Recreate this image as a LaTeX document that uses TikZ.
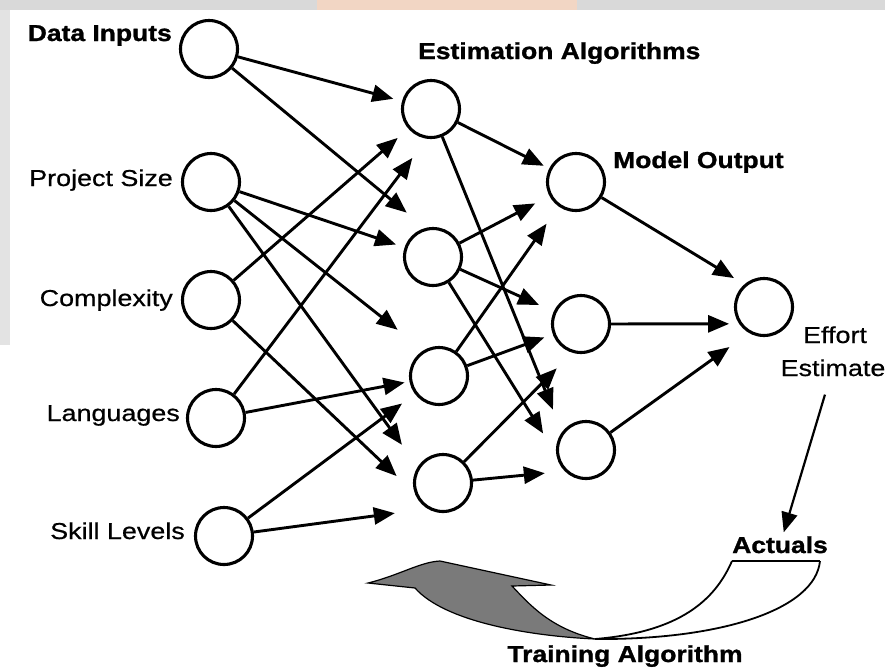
\documentclass[tikz,border=0pt]{standalone}
\usepackage{fontspec}
\setmainfont{Liberation Sans}
\newfontfamily\labfont[FakeStretch=1.17,FakeBold=0.6]{Liberation Sans}
\newfontfamily\blabfont[FakeStretch=1.15,FakeBold=1.2]{Liberation Sans Bold}
\usetikzlibrary{arrows.meta}
\definecolor{peach}{HTML}{F2D6C4}
\definecolor{swoosh}{HTML}{7A7A7A}
\begin{document}
\begin{tikzpicture}[x=1pt,y=-1pt,
  neuron/.style={circle,draw=black,line width=3.1pt,minimum size=57pt,inner sep=0pt},
  lab/.style={inner sep=0pt,font=\labfont\fontsize{23}{27}\selectfont},
  blab/.style={inner sep=0pt,font=\blabfont\fontsize{23}{27}\selectfont},
  arr/.style={line width=2.9pt,-{Triangle[length=21pt,width=17pt]}},
  thinarr/.style={line width=2.2pt,-{Triangle[length=20pt,width=16pt]}},
  thin/.style={line width=1.8pt},
]
\useasboundingbox (0,0) rectangle (885,670);
\fill[white] (0,0) rectangle (885,670);
\fill[gray!30] (0,0) rectangle (885,10);
\fill[peach] (317,0) rectangle (577,10);
\fill[gray!22] (0,10) rectangle (10,345);

% neurons
\node[neuron] (I1) at (209,49) {};
\node[neuron] (I2) at (211,182) {};
\node[neuron] (I3) at (211,300) {};
\node[neuron] (I4) at (216,418) {};
\node[neuron] (I5) at (224,536) {};
\node[neuron] (H1) at (431,109) {};
\node[neuron] (H2) at (433,257) {};
\node[neuron] (H3) at (439,376) {};
\node[neuron] (H4) at (443,483) {};
\node[neuron] (O1) at (576,182) {};
\node[neuron] (O2) at (581,324) {};
\node[neuron] (O3) at (586,450) {};
\node[neuron] (E) at (764,307) {};

% labels
\node[blab,anchor=base east] (tDI) at (172,41) {Data Inputs};
\node[lab,anchor=base east] (tPS) at (173,186) {Project Size};
\node[lab,anchor=base east] (tCX) at (173,306) {Complexity};
\node[lab,anchor=base east] (tLG) at (180,421) {Languages};
\node[lab,anchor=base east] (tSL) at (185,539) {Skill Levels};
\node[blab,anchor=base west] (tEA) at (418,59) {Estimation Algorithms};
\node[blab,anchor=base west] (tMO) at (613,168) {Model Output};
\node[lab,anchor=base] (tEff) at (835,343) {Effort};
\node[lab,anchor=base] (tEst) at (833,376) {Estimate};
\node[blab,anchor=base] (tAct) at (780,553) {Actuals};
\node[blab,anchor=base] (tTA) at (625,662) {Training Algorithm};

% input -> hidden
\draw[arr,shorten >=9pt]  (I1) -- (H1);
\draw[arr,shorten >=24pt] (I1) -- (H2.105);
\draw[arr,shorten >=9pt]  (I2) -- (H2);
\draw[arr,shorten >=33pt] (I2) -- (H3.121);
\draw[arr,shorten >=27pt] (I2) -- (H4.147);
\draw[arr,shorten >=14pt] (I3) -- (H1);
\draw[arr,shorten >=25pt] (I3) -- (H4.200);
\draw[arr,shorten >=24pt] (I4) -- (H1.262);
\draw[arr,shorten >=5pt]  (I4) -- (H3);
\draw[arr,shorten >=16pt] (I5) -- (H3);
\draw[arr,shorten >=33pt] (I5) -- (H4.239);

% hidden -> output
\draw[arr,shorten >=6pt]  (H1) -- (O1);
\draw[arr,shorten >=24pt] (H1) -- (O3.143);
\draw[arr,shorten >=16pt] (H2) -- (O1);
\draw[arr,shorten >=16pt] (H2) -- (O2);
\draw[arr,shorten >=25pt] (H2) -- (O3.189);
\draw[arr,shorten >=21pt] (H3) -- (O1);
\draw[arr,shorten >=9pt]  (H3) -- (O2);
\draw[arr,shorten >=22pt] (H4) -- (O2.253);
\draw[arr,shorten >=20pt] (H4) -- (O3.225);

% output -> effort
\draw[arr,shorten >=12pt] (O1) -- (E.131);
\draw[arr,shorten >=10pt] (O2) -- (E.214);
\draw[arr,shorten >=24pt] (O3) -- (E.240);

% effort estimate -> actuals
\draw[thinarr,shorten <=19pt,shorten >=4pt] (tEst) -- (tAct);

% training loop
\coordinate (barL) at (732,561);
\coordinate (barR) at (820,561);
\coordinate (join) at (595,639);
\draw[thin] (barL) -- (barR);
\draw[thin] (barL) .. controls (715,600) and (680,632) .. (join);
\draw[thin] (barR) .. controls (815,610) and (720,640) .. (join);
\filldraw[fill=swoosh,draw=black,line width=1.2pt]
  (368,583) .. controls (400,575) and (420,562) .. (440,561)
  -- (551,585) -- (512,586)
  .. controls (530,605) and (550,628) .. (join)
  .. controls (530,636) and (445,622) .. (415,588) -- cycle;
\end{tikzpicture}
\end{document}
